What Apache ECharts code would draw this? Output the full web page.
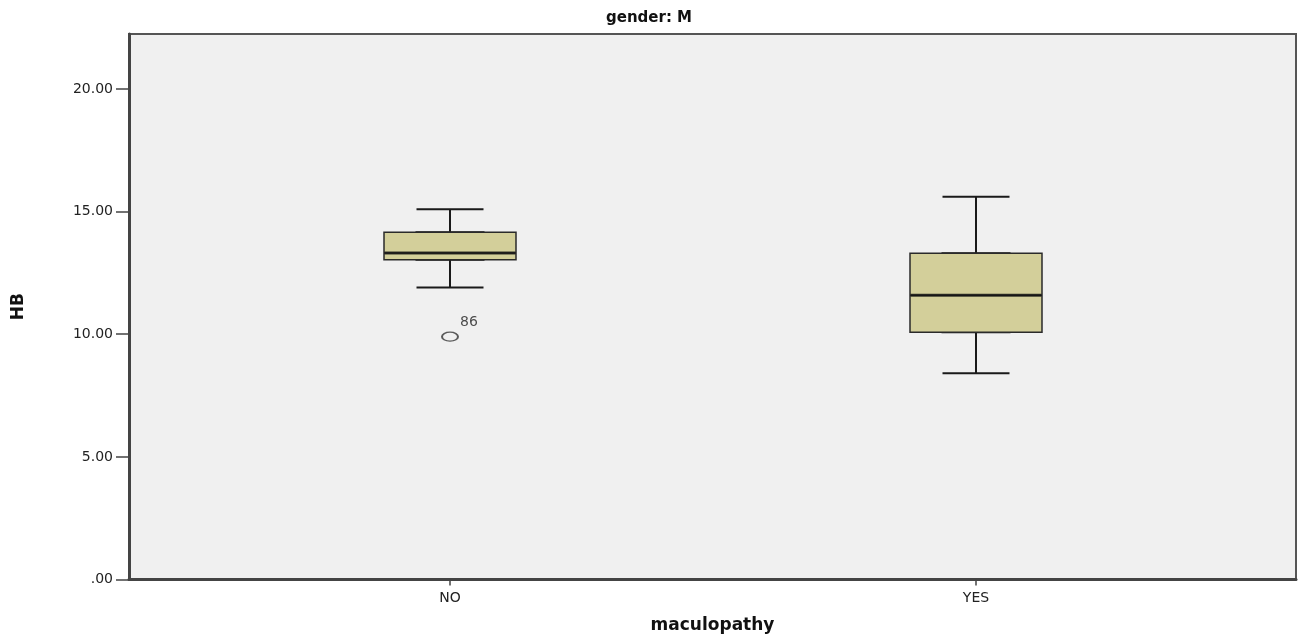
<!DOCTYPE html>
<html>
<head>
<meta charset="utf-8">
<style>
  html, body { margin: 0; padding: 0; background: #ffffff; }
  #chart { width: 1298px; height: 641px; }
</style>
<script src="https://cdn.jsdelivr.net/npm/echarts@6/dist/echarts.min.js"></script>
</head>
<body>
<div id="chart"></div>
<script>
// values (HB by maculopathy, gender M)
const categories = ['NO', 'YES'];
const whiskerLow = [11.90, 8.41];
const q1 = [13.04, 10.08];
const median = [13.31, 11.59];
const q3 = [14.16, 13.30];
const whiskerHigh = [15.10, 15.60];
const outlierCat = [0];
const outlierVal = [9.90];
const outlierId = ['86'];
const yTicks = [0, 5, 10, 15, 20];

const font = 'DejaVu Sans';
const yMax = 22.24;

const chart = echarts.init(document.getElementById('chart'));

const option = {
    animation: false,
    backgroundColor: '#ffffff',
    title: {
        text: 'gender: M',
        left: 'center',
        top: 6,
        textStyle: { fontFamily: font, fontSize: 15, fontWeight: 'bold', color: '#111' }
    },
    grid: [
        // frame
        { left: 129, top: 34, width: 1167, height: 545.5, show: true,
          backgroundColor: '#f0f0f0', borderColor: '#555', borderWidth: 2 },
        // box positions
        { left: 187, top: 34, width: 1052, height: 545.5 }
    ],
    xAxis: [
        {
            gridIndex: 0, type: 'value', min: 0, max: 1,
            name: 'maculopathy', nameLocation: 'middle', nameGap: 38,
            nameTextStyle: { fontFamily: font, fontSize: 17, fontWeight: 'bold', color: '#111' },
            axisLine: { show: true, lineStyle: { color: '#444', width: 3 } },
            axisTick: { show: false }, axisLabel: { show: false }, splitLine: { show: false }
        },
        {
            gridIndex: 1, type: 'category', data: categories,
            axisLine: { show: false },
            axisTick: { show: true, alignWithLabel: true, length: 6, lineStyle: { color: '#444', width: 1.5 } },
            axisLabel: { margin: 12, fontFamily: font, fontSize: 14, color: '#222' },
            splitLine: { show: false }
        },
        {
            gridIndex: 1, type: 'category', data: categories, show: false
        }
    ],
    yAxis: [
        {
            gridIndex: 0, type: 'value', min: 0, max: yMax, interval: 5,
            name: 'HB', nameLocation: 'middle', nameGap: 102, nameRotate: 90,
            nameTextStyle: { fontFamily: font, fontSize: 17, fontWeight: 'bold', color: '#111' },
            axisLine: { show: true, lineStyle: { color: '#444', width: 3 } },
            axisTick: { show: true, length: 13, customValues: yTicks, lineStyle: { color: '#444', width: 1.5 } },
            axisLabel: {
                margin: 16, fontFamily: font, fontSize: 14, color: '#222',
                customValues: yTicks,
                formatter: v => v === 0 ? '.00' : v.toFixed(2)
            },
            splitLine: { show: false }
        },
        { gridIndex: 1, type: 'value', min: 0, max: yMax, show: false }
    ],
    series: [
        {
            // whiskers (narrow caps)
            type: 'boxplot', xAxisIndex: 1, yAxisIndex: 1, z: 2,
            boxWidth: [67, 67],
            itemStyle: { color: 'rgba(0,0,0,0)', borderColor: '#1a1a1a', borderWidth: 2 },
            data: categories.map((c, i) => [whiskerLow[i], q1[i], median[i], q3[i], whiskerHigh[i]])
        },
        {
            // filled box Q1..Q3
            type: 'boxplot', xAxisIndex: 2, yAxisIndex: 1, z: 3,
            boxWidth: [132, 132],
            itemStyle: { color: '#d3cf9a', borderColor: '#2a2a2a', borderWidth: 1.5 },
            data: categories.map((c, i) => [q1[i], q1[i], median[i], q3[i], q3[i]])
        },
        {
            // thick median line
            type: 'scatter', xAxisIndex: 2, yAxisIndex: 1, z: 4,
            symbol: 'rect', symbolSize: [131, 3],
            itemStyle: { color: '#111' },
            data: categories.map((c, i) => [i, median[i]])
        },
        {
            // outliers
            type: 'scatter', xAxisIndex: 2, yAxisIndex: 1, z: 4,
            symbol: 'path://M0,4.5 A8.5,4.5 0 1 0 17,4.5 A8.5,4.5 0 1 0 0,4.5 Z',
            symbolSize: [16, 9],
            itemStyle: { color: 'rgba(0,0,0,0)', borderColor: '#333', borderWidth: 1.5 },
            label: {
                show: true, position: 'right', distance: 1, offset: [0, -14],
                formatter: p => p.data.name,
                fontFamily: font, fontSize: 14, color: '#222'
            },
            data: outlierCat.map((c, i) => ({ name: outlierId[i], value: [c, outlierVal[i]] }))
        }
    ]
};

chart.setOption(option);
</script>
</body>
</html>
